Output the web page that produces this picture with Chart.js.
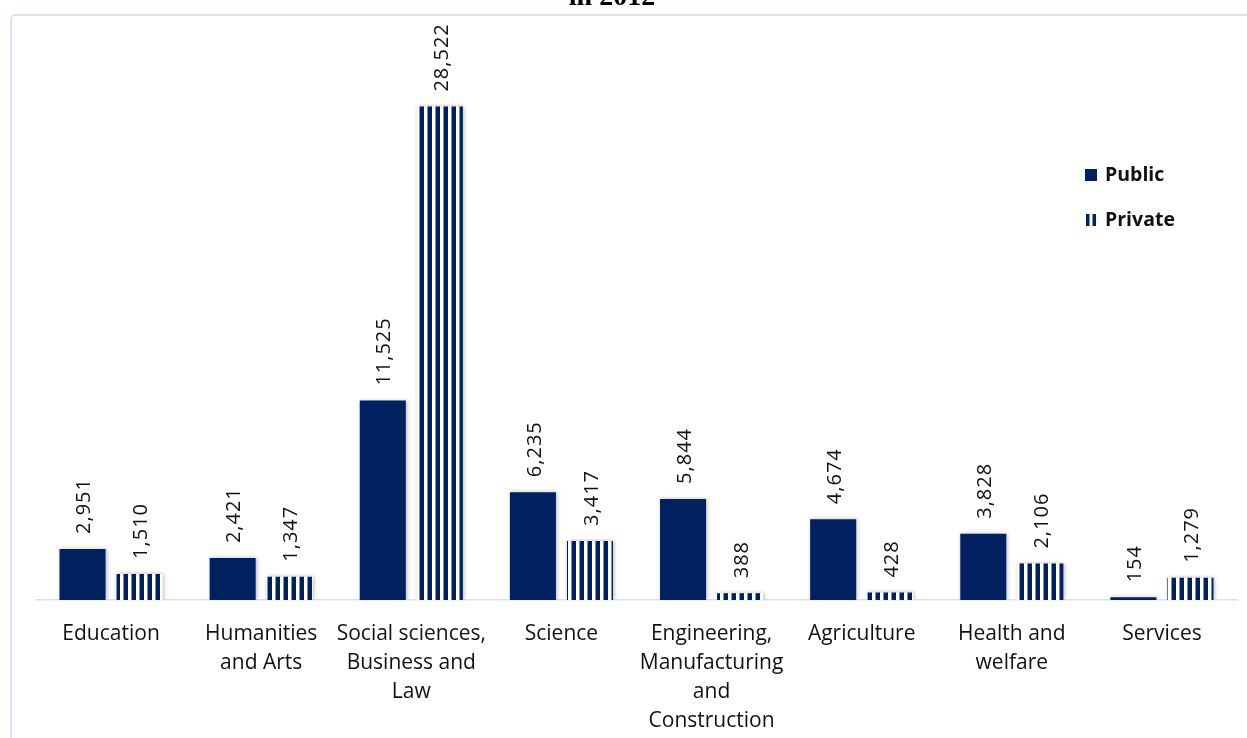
<!DOCTYPE html>
<html>
<head>
<meta charset="utf-8">
<script src="https://cdn.jsdelivr.net/npm/chart.js@4.4.1/dist/chart.umd.min.js"></script>
<style>
  html, body { margin: 0; padding: 0; background: #fff; }
  #wrap { position: relative; width: 1247px; height: 738px; overflow: hidden; }
</style>
</head>
<body>
<div id="wrap"><canvas id="chart" width="1247" height="738"></canvas></div>
<script>
// data
const categories = [
  'Education',
  ['Humanities', 'and Arts'],
  ['Social sciences,', 'Business and', 'Law'],
  'Science',
  ['Engineering,', 'Manufacturing', 'and', 'Construction'],
  'Agriculture',
  ['Health and', 'welfare'],
  'Services'
];
const publicValues  = [2951, 2421, 11525, 6235, 5844, 4674, 3828, 154];
const privateValues = [1510, 1347, 28522, 3417, 388, 428, 2106, 1279];
const seriesNames = ['Public', 'Private'];
const titleText = 'in 2012';

const NAVY = '#002060';
const TEXT = '#111';
const FONT = '"Open Sans", "Noto Sans", sans-serif';

// vertical stripe fill used for the private series
function stripePattern() {
  const c = document.createElement('canvas');
  c.width = 8; c.height = 8;
  const g = c.getContext('2d');
  g.fillStyle = '#fff';
  g.fillRect(0, 0, 8, 8);
  g.fillStyle = NAVY;
  g.fillRect(3.5, 0, 4.5, 8);
  return g.createPattern(c, 'repeat');
}

// frame, clipped title, bar shadow, value labels, legend
const decorations = {
  id: 'decorations',
  beforeDraw(chart) {
    const ctx = chart.ctx;
    ctx.save();
    ctx.strokeStyle = '#dae3f3';
    ctx.lineWidth = 2;
    ctx.beginPath();
    ctx.roundRect(11, 15, 1300, 800, 4);
    ctx.stroke();
    ctx.fillStyle = '#000';
    ctx.font = 'bold 28px "Liberation Serif", serif';
    ctx.textAlign = 'center';
    ctx.textBaseline = 'alphabetic';
    ctx.fillText(titleText, 612, 5);
    ctx.restore();
  },
  beforeDatasetsDraw(chart) {
    const ctx = chart.ctx;
    ctx.save();
    ctx.shadowColor = 'rgba(0,0,0,0.28)';
    ctx.shadowBlur = 4;
    ctx.shadowOffsetX = 1;
    ctx.shadowOffsetY = 0;
  },
  afterDatasetsDraw(chart) {
    const ctx = chart.ctx;
    ctx.restore();
    ctx.save();
    ctx.fillStyle = TEXT;
    ctx.font = '500 20px ' + FONT;
    ctx.letterSpacing = '1px';
    ctx.textAlign = 'left';
    ctx.textBaseline = 'middle';
    chart.data.datasets.forEach((ds, i) => {
      chart.getDatasetMeta(i).data.forEach((bar, j) => {
        ctx.save();
        ctx.translate(bar.x + 2, bar.y - 15);
        ctx.rotate(-Math.PI / 2);
        ctx.fillText(ds.data[j].toLocaleString('en-US'), 0, 0);
        ctx.restore();
      });
    });
    ctx.restore();
  },
  afterDraw(chart) {
    const ctx = chart.ctx;
    ctx.save();
    ctx.font = 'bold 19.5px ' + FONT;
    ctx.textBaseline = 'middle';
    const x0 = 1085, y0 = 175, step = 45;
    chart.data.datasets.forEach((ds, i) => {
      const y = y0 + i * step;
      ctx.fillStyle = NAVY;
      if (i === 0) {
        ctx.fillRect(x0, y - 6, 12, 12);
      } else {
        ctx.fillRect(x0 + 1, y - 6, 3.5, 12);
        ctx.fillRect(x0 + 7.5, y - 6, 3.5, 12);
      }
      ctx.fillStyle = TEXT;
      ctx.fillText(ds.label, x0 + 20, y);
    });
    ctx.restore();
  }
};

new Chart(document.getElementById('chart'), {
  type: 'bar',
  data: {
    labels: categories,
    datasets: [
      { label: seriesNames[0], data: publicValues, backgroundColor: NAVY },
      { label: seriesNames[1], data: privateValues, backgroundColor: stripePattern() }
    ]
  },
  options: {
    responsive: false,
    animation: false,
    categoryPercentage: 0.76,
    barPercentage: 0.807,
    layout: { padding: { left: 36, right: 10, top: 81, bottom: 0 } },
    plugins: { legend: { display: false }, tooltip: { enabled: false } },
    scales: {
      x: {
        grid: { display: false, drawTicks: false },
        border: { display: true, color: '#d6e2f3', width: 1.5 },
        ticks: { color: TEXT, font: { family: FONT, size: 21, lineHeight: '29px' }, padding: 20, maxRotation: 0, autoSkip: false },
        afterFit(scale) { scale.height = 138; }
      },
      y: { display: false, min: 0, max: 30000 }
    }
  },
  plugins: [decorations]
});
</script>
</body>
</html>
